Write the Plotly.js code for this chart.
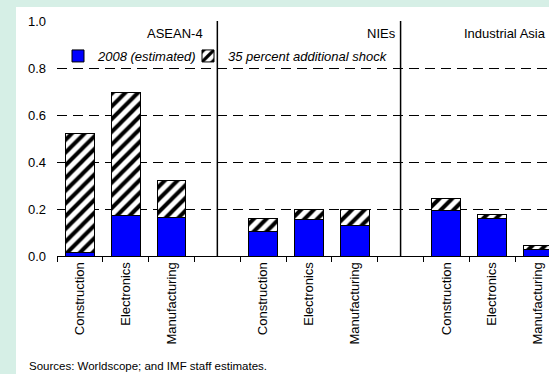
<!DOCTYPE html>
<html>
<head>
<meta charset="utf-8">
<script src="https://cdn.plot.ly/plotly-3.0.1.min.js"></script>
<style>
html,body{margin:0;padding:0;background:#ffffff;}
#chart{width:549px;height:374px;}
</style>
</head>
<body>
<div id="chart"></div>
<script>
// Data
const positions = [0, 1, 2, 4, 5, 6, 8, 9, 10];
const categoryLabels = ["Construction", "Electronics", "Manufacturing",
                        "Construction", "Electronics", "Manufacturing",
                        "Construction", "Electronics", "Manufacturing"];
const groupNames = ["ASEAN-4", "NIEs", "Industrial Asia"];
const estimated2008 = [0.015, 0.171, 0.164, 0.103, 0.154, 0.129, 0.194, 0.159, 0.028];
const additionalShock = [0.505, 0.526, 0.156, 0.056, 0.044, 0.069, 0.052, 0.017, 0.018];
const yTicks = [0, 0.2, 0.4, 0.6, 0.8, 1.0];
const separators = [3, 7];
const seriesNames = ["2008 (estimated)", "35 percent additional shock"];
const sourceNote = "Sources: Worldscope; and IMF staff estimates.";

const FONT = '"Liberation Sans", Arial, sans-serif';

const traces = [
  {
    type: 'bar', x: positions, y: estimated2008, name: seriesNames[0],
    width: 0.63, legend: 'legend',
    marker: {color: '#0000ff', line: {color: '#000000', width: 1}},
    hoverinfo: 'skip'
  },
  {
    type: 'bar', x: positions, y: additionalShock, name: seriesNames[1],
    width: 0.63, legend: 'legend2',
    marker: {color: '#ffffff', line: {color: '#000000', width: 1},
      pattern: {shape: '/', fgcolor: '#000000', bgcolor: '#ffffff', size: 9, solidity: 0.45}},
    hoverinfo: 'skip'
  }
];

const pxX = v => (v - 57) / 492;
const pxY = v => (256 - v) / 235;

const shapes = [
  {type: 'rect', xref: 'paper', yref: 'paper', x0: pxX(16), x1: pxX(560), y0: pxY(7), y1: pxY(380),
   fillcolor: '#ffffff', line: {width: 0}, layer: 'below'}
];
separators.forEach(s => shapes.push({
  type: 'line', xref: 'x', yref: 'y', x0: s, x1: s, y0: 0, y1: 1,
  line: {color: '#000000', width: 1.5}
}));

const annotations = [
  {text: groupNames[0], xref: 'paper', yref: 'paper', x: pxX(205), y: pxY(34), xanchor: 'right', yanchor: 'middle', showarrow: false, font: {family: FONT, size: 13, color: '#000'}},
  {text: groupNames[1], xref: 'paper', yref: 'paper', x: pxX(398), y: pxY(34), xanchor: 'right', yanchor: 'middle', showarrow: false, font: {family: FONT, size: 13, color: '#000'}},
  {text: groupNames[2], xref: 'paper', yref: 'paper', x: pxX(548), y: pxY(34), xanchor: 'right', yanchor: 'middle', showarrow: false, font: {family: FONT, size: 13, color: '#000'}},
  {text: sourceNote, xref: 'paper', yref: 'paper', x: pxX(27), y: pxY(366), xanchor: 'left', yanchor: 'middle', showarrow: false, font: {family: FONT, size: 11.5, color: '#000'}}
];

const layout = {
  width: 549, height: 374,
  margin: {l: 57, r: 0, t: 21, b: 118, pad: 0},
  paper_bgcolor: '#d6efe6',
  plot_bgcolor: 'rgba(0,0,0,0)',
  barmode: 'stack',
  font: {family: FONT, size: 13, color: '#000'},
  showlegend: true,
  legend: {x: pxX(58), y: pxY(56), xanchor: 'left', yanchor: 'middle', orientation: 'h',
    bgcolor: 'rgba(0,0,0,0)', font: {family: FONT, size: 13, style: 'italic', color: '#000'}, itemwidth: 30},
  legend2: {x: pxX(188), y: pxY(56), xanchor: 'left', yanchor: 'middle', orientation: 'h',
    bgcolor: 'rgba(0,0,0,0)', font: {family: FONT, size: 13, style: 'italic', color: '#000'}, itemwidth: 30},
  xaxis: {
    range: [-0.5, 10.24], tickmode: 'array', tickvals: positions, ticktext: categoryLabels,
    tickangle: -90, ticks: '', showgrid: false, zeroline: false,
    showline: true, linecolor: '#000', linewidth: 1,
    tickfont: {family: FONT, size: 13, color: '#000'},
    minor: {ticks: 'outside', ticklen: 5, tickcolor: '#000', tickwidth: 1, tickmode: 'linear', tick0: -0.5, dtick: 1, showgrid: false},
    fixedrange: true
  },
  yaxis: {
    range: [0, 1.0], tickmode: 'array', tickvals: yTicks, tickformat: '.1f',
    ticks: '', showgrid: true, gridcolor: '#000', gridwidth: 1, griddash: '10px,6px',
    zeroline: false, showline: false, ticklabelstandoff: 10,
    tickfont: {family: FONT, size: 13, color: '#000'}, fixedrange: true
  },
  shapes: shapes,
  annotations: annotations
};

Plotly.newPlot('chart', traces, layout, {displayModeBar: false, staticPlot: true});
</script>
</body>
</html>
